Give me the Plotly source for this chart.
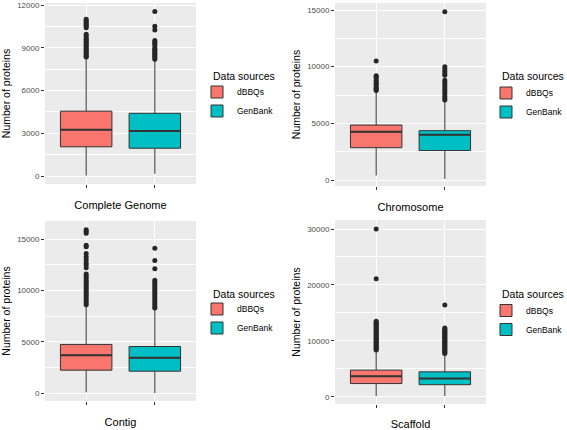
import plotly.graph_objects as go

# ---------------- data ----------------
panels = ["Complete Genome", "Chromosome", "Contig", "Scaffold"]
sources = ["dBBQs", "GenBank"]
legend_title = "Data sources"
y_title = "Number of proteins"

# box statistics per panel: [dBBQs, GenBank]
q1 = {
    "Complete Genome": [2050, 1950],
    "Chromosome": [2850, 2600],
    "Contig": [2250, 2150],
    "Scaffold": [2350, 2150],
}
median = {
    "Complete Genome": [3250, 3150],
    "Chromosome": [4250, 4000],
    "Contig": [3700, 3450],
    "Scaffold": [3650, 3250],
}
q3 = {
    "Complete Genome": [4550, 4400],
    "Chromosome": [4850, 4350],
    "Contig": [4750, 4550],
    "Scaffold": [4750, 4450],
}
lower_whisker = {
    "Complete Genome": [30, 150],
    "Chromosome": [400, 100],
    "Contig": [100, 30],
    "Scaffold": [100, 100],
}
upper_whisker = {
    "Complete Genome": [8300, 8100],
    "Chromosome": [7800, 6900],
    "Contig": [8450, 8200],
    "Scaffold": [8250, 7600],
}

# outliers per panel
outliers = {
    "Complete Genome": [
        [11000, 10900, 10800, 10700, 10600, 10500, 10400, 9950, 9850, 9700,
         9600, 9500, 9400, 9300, 9200, 9100, 9000, 8900, 8800, 8700, 8600,
         8500, 8400, 8350],
        [11550, 10500, 10250, 9500, 9400, 9300, 9200, 9000, 8900, 8800,
         8700, 8600, 8500, 8400, 8300, 8200],
    ],
    "Chromosome": [
        [10500, 9200, 9100, 9000, 8800, 8600, 8500, 8400, 8200, 8100, 8000, 7900],
        [14850, 10000, 9800, 9600, 9400, 9250, 8800, 8600, 8400, 8200, 8000,
         7800, 7600, 7400, 7200, 7050],
    ],
    "Contig": [
        [15900, 15750, 15550, 14400, 14250, 13600, 13300, 13000, 12700, 12500,
         12200, 11600, 11400, 11200, 11000, 10800, 10600, 10400, 10200, 10000,
         9800, 9600, 9400, 9200, 9000, 8800, 8600],
        [14100, 12900, 12100, 11000, 10800, 10600, 10400, 10200, 10000, 9800,
         9600, 9400, 9200, 9000, 8800, 8600, 8400, 8300],
    ],
    "Scaffold": [
        [30000, 21100, 13500, 13300, 13100, 12900, 12700, 12500, 12300, 12100,
         11900, 11700, 11500, 11300, 11100, 10900, 10700, 10500, 10300, 10100,
         9900, 9700, 9500, 9300, 9100, 8900, 8700, 8500, 8350],
        [16400, 12300, 12100, 11900, 11700, 11500, 11300, 11100, 10900, 10700,
         10500, 10300, 10100, 9900, 9700, 9500, 9300, 9100, 8900, 8700, 8500,
         8300, 8100, 7900, 7750],
    ],
}

y_dtick = {"Complete Genome": 3000, "Chromosome": 5000, "Contig": 5000, "Scaffold": 10000}
y_range = {
    "Complete Genome": [-561, 12140],
    "Chromosome": [-529, 15618],
    "Contig": [-748, 16750],
    "Scaffold": [-1306, 31610],
}

# ---------------- layout geometry ----------------
W, H = 567, 430
def px_x(a, b):
    return [a / W, b / W]
def px_y(top, bottom):
    return [1 - bottom / H, 1 - top / H]

x_dom = {
    "Complete Genome": px_x(45, 196),
    "Chromosome": px_x(335, 486),
    "Contig": px_x(45, 196),
    "Scaffold": px_x(335, 486),
}
y_dom = {
    "Complete Genome": px_y(3, 184),
    "Chromosome": px_y(3, 186),
    "Contig": px_y(221, 401),
    "Scaffold": px_y(220, 404),
}
# (title left x, title center y, legend left x, legend top y)
legend_pos = {
    "Complete Genome": (212, 76, 197, 77.5),
    "Chromosome": (501, 76, 486, 78.5),
    "Contig": (212, 294, 197, 294.5),
    "Scaffold": (501, 294, 486, 296),
}

colors = ["#F8766D", "#00BFC4"]
edge = "#333333"
box_w = 0.75

fig = go.Figure()
layout = dict(
    width=W, height=H,
    margin=dict(l=0, r=0, t=0, b=0, autoexpand=False),
    paper_bgcolor="white",
    plot_bgcolor="#EBEBEB",
    font=dict(family="Liberation Sans, Arial, sans-serif", color="black"),
    boxmode="overlay",
)
annotations = []

for k, p in enumerate(panels):
    sfx = "" if k == 0 else str(k + 1)
    xa, ya = "x" + sfx, "y" + sfx
    leg = "legend" + sfx
    for i, s in enumerate(sources):
        xpos = i + 1
        fig.add_trace(go.Box(
            x=[xpos], q1=[q1[p][i]], median=[median[p][i]], q3=[q3[p][i]],
            lowerfence=[lower_whisker[p][i]], upperfence=[upper_whisker[p][i]],
            name=s, fillcolor=colors[i], line=dict(color=edge, width=1),
            width=box_w, whiskerwidth=0, boxpoints=False,
            xaxis=xa, yaxis=ya, legend=leg, showlegend=True, hoverinfo="skip",
        ))
        # thicker median line (ggplot fatten)
        fig.add_trace(go.Scatter(
            x=[xpos - box_w / 2, xpos + box_w / 2],
            y=[median[p][i], median[p][i]],
            mode="lines", line=dict(color=edge, width=2),
            xaxis=xa, yaxis=ya, showlegend=False, hoverinfo="skip",
        ))
        fig.add_trace(go.Scatter(
            x=[xpos] * len(outliers[p][i]), y=outliers[p][i],
            mode="markers", marker=dict(color="#262626", size=5),
            xaxis=xa, yaxis=ya, showlegend=False, hoverinfo="skip",
        ))

    layout["xaxis" + sfx] = dict(
        domain=x_dom[p], anchor=ya, range=[0.4, 2.6], automargin=False,
        tickvals=[1, 2], ticktext=["", ""], ticks="outside", ticklen=3,
        tickcolor=edge, tickwidth=1, showgrid=True, gridcolor="white",
        gridwidth=1.1, zeroline=False, showline=False,
        title=dict(text=p, font=dict(size=11, color="black"), standoff=11),
    )
    layout["yaxis" + sfx] = dict(
        domain=y_dom[p], anchor=xa, range=y_range[p], automargin=False,
        dtick=y_dtick[p], tick0=0, tickformat="d", ticks="outside", ticklen=3,
        tickcolor=edge, tickwidth=1, tickfont=dict(size=8, color="#4D4D4D"),
        showgrid=True, gridcolor="white", gridwidth=1.1, zeroline=False,
        showline=False,
        minor=dict(dtick=y_dtick[p] / 2, tick0=y_dtick[p] / 2, showgrid=True,
                   gridcolor="white", gridwidth=0.5, ticks=""),
        title=dict(text=y_title, font=dict(size=10.5, color="black"),
                   standoff=4),
    )
    tx, ty, lx, ly = legend_pos[p]
    annotations.append(dict(
        text=legend_title, xref="paper", yref="paper", x=tx / W, y=1 - ty / H,
        xanchor="left", yanchor="middle", showarrow=False, borderpad=0,
        font=dict(size=10.5, color="black"),
    ))
    layout[leg] = dict(
        x=lx / W, y=1 - ly / H, xanchor="left", yanchor="top",
        font=dict(size=8.5, color="black"), bgcolor="rgba(0,0,0,0)",
        tracegroupgap=0, itemwidth=30,
    )

layout["annotations"] = annotations
fig.update_layout(**layout)
# remove the browser's default page margin so the figure sits at the window origin
fig.write_html("out.html",
               config={"displayModeBar": False},
               post_script="document.body.style.margin='0';document.body.style.overflow='hidden';")
